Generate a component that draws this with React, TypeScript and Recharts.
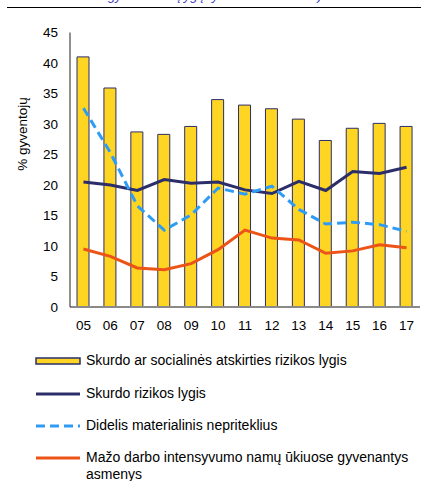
import React from 'react';
import { ComposedChart, Bar, Line, XAxis, YAxis } from 'recharts';

const years = ['05', '06', '07', '08', '09', '10', '11', '12', '13', '14', '15', '16', '17'];
const aropeRate = [41.0, 35.9, 28.7, 28.3, 29.6, 34.0, 33.1, 32.5, 30.8, 27.3, 29.3, 30.1, 29.6];
const povertyRate = [20.5, 20.0, 19.1, 20.9, 20.3, 20.5, 19.2, 18.6, 20.6, 19.1, 22.2, 21.9, 22.9];
const deprivationRate = [32.6, 25.3, 16.6, 12.6, 15.1, 19.5, 18.5, 19.8, 16.0, 13.6, 13.9, 13.5, 12.4];
const lowWorkRate = [9.5, 8.3, 6.4, 6.1, 7.1, 9.4, 12.6, 11.3, 11.0, 8.8, 9.2, 10.2, 9.7];
const yTicks = [0, 5, 10, 15, 20, 25, 30, 35, 40, 45];

const seriesNames = [
  'Skurdo ar socialinės atskirties rizikos lygis',
  'Skurdo rizikos lygis',
  'Didelis materialinis nepriteklius',
  'Mažo darbo intensyvumo namų ūkiuose gyvenantys asmenys',
];

const YELLOW = '#FFD524';
const NAVY = '#2B2E69';
const LBLUE = '#2E9CF4';
const ORANGE = '#EC5316';

const data = years.map((y, i) => ({
  year: y,
  arope: aropeRate[i],
  poverty: povertyRate[i],
  deprivation: deprivationRate[i],
  lowWork: lowWorkRate[i],
}));

const font = '"Liberation Sans", Arial, sans-serif';

function LegendIcon({ kind }: { kind: number }) {
  if (kind === 0) {
    return (
      <svg width={46} height={10} style={{ display: 'block' }}>
        <rect x={1} y={2} width={44} height={6} fill={YELLOW} stroke={NAVY} strokeWidth={1.5} />
      </svg>
    );
  }
  const color = kind === 1 ? NAVY : kind === 2 ? LBLUE : ORANGE;
  return (
    <svg width={46} height={10} style={{ display: 'block' }}>
      <line
        x1={1}
        x2={45}
        y1={5}
        y2={5}
        stroke={color}
        strokeWidth={3}
        strokeDasharray={kind === 2 ? '9 5' : undefined}
      />
    </svg>
  );
}

export default function App() {
  const legendTops = [352, 385, 417, 449];
  return (
    <div style={{ position: 'absolute', left: 0, top: 0, width: 431, height: 481, background: '#fff', fontFamily: font, overflow: 'hidden' }}>
      <div
        style={{
          position: 'absolute',
          left: 108,
          top: -11,
          fontSize: 13,
          fontStyle: 'italic',
          color: '#3b3bc8',
          whiteSpace: 'nowrap',
          lineHeight: '13px',
        }}
      >
        gyvenimo sąlygų tyrimo duomenimis)
      </div>
      <div style={{ position: 'absolute', left: 7, top: 6.5, width: 414, height: 1.5, background: '#000' }} />
      <div style={{ position: 'absolute', left: 0, top: 0 }}>
        <ComposedChart
          width={431}
          height={340}
          data={data}
          margin={{ top: 32.5, right: 11, left: 30, bottom: 3 }}
          barCategoryGap={0}
        >
          <XAxis
            dataKey="year"
            tickLine={false}
            axisLine={{ stroke: '#8a8a8a', strokeWidth: 2 }}
            tick={{ fill: '#000', fontSize: 13.5, fontFamily: font }}
            tickSize={10}
            tickMargin={3}
            height={30}
            interval={0}
          />
          <YAxis
            domain={[0, 45]}
            ticks={yTicks}
            width={40}
            tickLine={false}
            axisLine={{ stroke: '#222', strokeWidth: 1 }}
            tick={{ fill: '#000', fontSize: 13.5, fontFamily: font }}
            tickSize={10}
            tickMargin={2}
            interval={0}
            label={{
              content: () => (
                <text
                  x={22}
                  y={134}
                  transform="rotate(-90, 22, 134)"
                  textAnchor="middle"
                  dominantBaseline="central"
                  fontSize={13.5}
                  fontFamily={font}
                  fill="#000"
                >
                  % gyventojų
                </text>
              ),
            }}
          />
          <Bar
            dataKey="arope"
            name={seriesNames[0]}
            fill={YELLOW}
            stroke={NAVY}
            strokeWidth={1}
            barSize={12}
            isAnimationActive={false}
          />
          <Line
            dataKey="poverty"
            name={seriesNames[1]}
            type="linear"
            stroke={NAVY}
            strokeWidth={3}
            dot={false}
            isAnimationActive={false}
          />
          <Line
            dataKey="deprivation"
            name={seriesNames[2]}
            type="linear"
            stroke={LBLUE}
            strokeWidth={3}
            strokeDasharray="9 5"
            dot={false}
            isAnimationActive={false}
          />
          <Line
            dataKey="lowWork"
            name={seriesNames[3]}
            type="linear"
            stroke={ORANGE}
            strokeWidth={3}
            dot={false}
            isAnimationActive={false}
          />
        </ComposedChart>
      </div>
      {seriesNames.map((name, i) => (
        <div
          key={name}
          style={{ position: 'absolute', left: 35, top: legendTops[i], display: 'flex', alignItems: 'flex-start' }}
        >
          <div style={{ marginTop: 4 }}>
            <LegendIcon kind={i} />
          </div>
          <div style={{ marginLeft: 5, fontSize: 14, lineHeight: '16.5px', color: '#000', width: 335 }}>{name}</div>
        </div>
      ))}
    </div>
  );
}
